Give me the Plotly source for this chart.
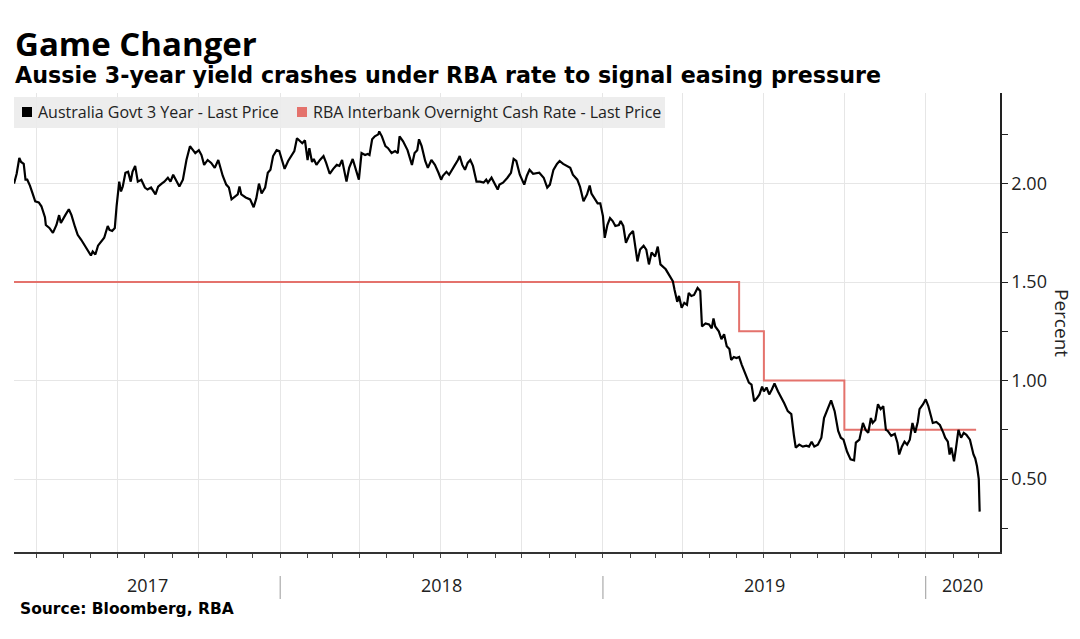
import plotly.graph_objects as go
import pandas as pd

# ---------------- data ----------------
yield_dates = [
    "2017-03-06","2017-03-09","2017-03-12","2017-03-14","2017-03-17","2017-03-19","2017-03-21","2017-03-24",
    "2017-03-27","2017-03-30","2017-04-03","2017-04-06","2017-04-10","2017-04-11","2017-04-15","2017-04-19",
    "2017-04-23","2017-04-26","2017-04-28","2017-05-01","2017-05-03","2017-05-07","2017-05-10","2017-05-14",
    "2017-05-17","2017-05-21","2017-05-25","2017-05-29","2017-06-01","2017-06-03","2017-06-06","2017-06-09",
    "2017-06-13","2017-06-16","2017-06-20","2017-06-22","2017-06-25","2017-06-28","2017-06-30","2017-07-03",
    "2017-07-05","2017-07-07","2017-07-10","2017-07-13","2017-07-16","2017-07-18","2017-07-21","2017-07-24",
    "2017-07-28","2017-08-01","2017-08-04","2017-08-08","2017-08-13","2017-08-16","2017-08-20","2017-08-23",
    "2017-08-27","2017-08-30","2017-09-02","2017-09-06","2017-09-09","2017-09-13","2017-09-17","2017-09-21",
    "2017-09-24","2017-09-27","2017-10-01","2017-10-04","2017-10-07","2017-10-11","2017-10-15","2017-10-19",
    "2017-10-23","2017-10-25","2017-10-28","2017-11-01","2017-11-04","2017-11-07","2017-11-11","2017-11-14",
    "2017-11-16","2017-11-18","2017-11-23","2017-11-28","2017-12-02","2017-12-05","2017-12-08","2017-12-11",
    "2017-12-15","2017-12-18","2017-12-21","2017-12-24","2017-12-28","2017-12-31","2018-01-03","2018-01-06",
    "2018-01-10","2018-01-14","2018-01-17","2018-01-20","2018-01-23","2018-01-26","2018-01-29","2018-02-01",
    "2018-02-03","2018-02-06","2018-02-08","2018-02-11","2018-02-15","2018-02-19","2018-02-22","2018-02-26",
    "2018-03-02","2018-03-06","2018-03-09","2018-03-12","2018-03-17","2018-03-20","2018-03-24","2018-03-28",
    "2018-03-31","2018-04-03","2018-04-07","2018-04-10","2018-04-12","2018-04-15","2018-04-18","2018-04-22",
    "2018-04-23","2018-04-26","2018-04-30","2018-05-03","2018-05-07","2018-05-11","2018-05-14","2018-05-16",
    "2018-05-20","2018-05-25","2018-05-30","2018-06-02","2018-06-05","2018-06-07","2018-06-10","2018-06-14",
    "2018-06-17","2018-06-21","2018-06-25","2018-06-29","2018-07-02","2018-07-04","2018-07-08","2018-07-11",
    "2018-07-14","2018-07-17","2018-07-21","2018-07-23","2018-07-26","2018-07-29","2018-08-01","2018-08-04",
    "2018-08-07","2018-08-11","2018-08-15","2018-08-19","2018-08-22","2018-08-24","2018-08-28","2018-09-01",
    "2018-09-04","2018-09-06","2018-09-10","2018-09-15","2018-09-19","2018-09-22","2018-09-25","2018-09-29",
    "2018-10-04","2018-10-07","2018-10-10","2018-10-14","2018-10-18","2018-10-21","2018-10-26","2018-10-30",
    "2018-11-02","2018-11-06","2018-11-10","2018-11-13","2018-11-17","2018-11-21","2018-11-25","2018-11-28",
    "2018-12-03","2018-12-06","2018-12-10","2018-12-14","2018-12-17","2018-12-19","2018-12-23","2018-12-26",
    "2018-12-29","2019-01-01","2019-01-03","2019-01-06","2019-01-09","2019-01-12","2019-01-15","2019-01-19",
    "2019-01-21","2019-01-24","2019-01-27","2019-01-31","2019-02-04","2019-02-07","2019-02-09","2019-02-12",
    "2019-02-16","2019-02-19","2019-02-22","2019-02-25","2019-03-01","2019-03-04","2019-03-07","2019-03-13",
    "2019-03-16","2019-03-21","2019-03-23","2019-03-26","2019-03-28","2019-03-31","2019-04-03","2019-04-06",
    "2019-04-08","2019-04-11","2019-04-14","2019-04-18","2019-04-21","2019-04-23","2019-04-27","2019-05-01",
    "2019-05-04","2019-05-06","2019-05-08","2019-05-12","2019-05-15","2019-05-18","2019-05-21","2019-05-24",
    "2019-05-26","2019-05-29","2019-06-01","2019-06-04","2019-06-07","2019-06-10","2019-06-13","2019-06-15",
    "2019-06-18","2019-06-21","2019-06-24","2019-06-27","2019-06-30","2019-07-02","2019-07-05","2019-07-08",
    "2019-07-11","2019-07-14","2019-07-18","2019-07-21","2019-07-25","2019-07-29","2019-08-02","2019-08-05",
    "2019-08-07","2019-08-11","2019-08-15","2019-08-19","2019-08-22","2019-08-25","2019-08-28","2019-09-01",
    "2019-09-05","2019-09-08","2019-09-12","2019-09-16","2019-09-20","2019-09-24","2019-09-27","2019-09-30",
    "2019-10-04","2019-10-08","2019-10-12","2019-10-14","2019-10-18","2019-10-22","2019-10-25","2019-10-28",
    "2019-10-31","2019-11-02","2019-11-05","2019-11-08","2019-11-11","2019-11-14","2019-11-17","2019-11-19",
    "2019-11-23","2019-11-27","2019-11-30","2019-12-02","2019-12-05","2019-12-08","2019-12-11","2019-12-14",
    "2019-12-17","2019-12-20","2019-12-23","2019-12-25","2019-12-29","2020-01-01","2020-01-04","2020-01-07",
    "2020-01-09","2020-01-13","2020-01-17","2020-01-21","2020-01-23","2020-01-26","2020-01-28","2020-01-30",
    "2020-02-02","2020-02-04","2020-02-07","2020-02-10","2020-02-13","2020-02-16","2020-02-20","2020-02-24",
    "2020-02-26","2020-02-28","2020-03-01","2020-03-02",
]
yield_values = [
    2.00, 2.05, 2.13, 2.11, 2.10, 2.02, 2.02, 1.99,
    1.95, 1.91, 1.905, 1.885, 1.83, 1.79, 1.775, 1.75,
    1.79, 1.84, 1.80, 1.82, 1.84, 1.87, 1.84, 1.78,
    1.74, 1.715, 1.685, 1.66, 1.635, 1.655, 1.64, 1.685,
    1.71, 1.725, 1.785, 1.765, 1.76, 1.775, 1.885, 2.01,
    1.96, 1.985, 2.055, 2.06, 2.01, 2.06, 2.09, 2.01,
    2.02, 1.98, 1.97, 1.98, 1.945, 1.985, 2.00, 2.01,
    2.03, 2.01, 2.045, 2.01, 1.985, 2.02, 2.12, 2.19,
    2.17, 2.155, 2.17, 2.145, 2.095, 2.12, 2.105, 2.08,
    2.12, 2.09, 2.04, 1.995, 1.98, 1.92, 1.935, 1.945,
    1.985, 1.945, 1.93, 1.92, 1.88, 1.925, 2.00, 1.95,
    1.98, 2.055, 2.07, 2.14, 2.17, 2.165, 2.12, 2.075,
    2.115, 2.14, 2.165, 2.23, 2.215, 2.205, 2.22, 2.12,
    2.18, 2.11, 2.125, 2.095, 2.12, 2.14, 2.105, 2.05,
    2.075, 2.095, 2.09, 2.12, 2.01, 2.08, 2.125, 2.07,
    2.02, 2.155, 2.145, 2.15, 2.145, 2.225, 2.24, 2.25,
    2.265, 2.24, 2.19, 2.18, 2.155, 2.165, 2.155, 2.24,
    2.215, 2.17, 2.095, 2.155, 2.17, 2.225, 2.19, 2.115,
    2.08, 2.12, 2.095, 2.055, 2.02, 2.04, 2.06, 2.045,
    2.07, 2.09, 2.12, 2.14, 2.095, 2.07, 2.105, 2.12,
    2.09, 2.01, 2.01, 2.005, 2.02, 2.005, 2.03, 1.995,
    1.97, 1.995, 2.005, 2.03, 2.055, 2.125, 2.115, 2.045,
    1.995, 2.04, 2.07, 2.05, 2.055, 2.055, 2.03, 1.98,
    1.995, 2.07, 2.10, 2.115, 2.10, 2.09, 2.08, 2.045,
    2.02, 1.985, 1.91, 1.945, 1.99, 1.95, 1.92, 1.90,
    1.90, 1.835, 1.725, 1.79, 1.825, 1.81, 1.785, 1.79,
    1.81, 1.785, 1.70, 1.74, 1.76, 1.665, 1.605, 1.665,
    1.685, 1.665, 1.59, 1.65, 1.63, 1.68, 1.59, 1.565,
    1.54, 1.505, 1.46, 1.40, 1.43, 1.37, 1.395, 1.385,
    1.445, 1.43, 1.435, 1.47, 1.455, 1.275, 1.29, 1.285,
    1.265, 1.315, 1.275, 1.25, 1.21, 1.235, 1.175, 1.16,
    1.105, 1.12, 1.115, 1.12, 1.08, 1.045, 1.015, 0.99,
    0.98, 0.895, 0.91, 0.93, 0.97, 0.945, 0.965, 0.93,
    0.955, 0.985, 0.945, 0.92, 0.885, 0.845, 0.83, 0.72,
    0.66, 0.675, 0.665, 0.67, 0.665, 0.69, 0.665, 0.675,
    0.71, 0.81, 0.855, 0.90, 0.845, 0.745, 0.71, 0.70,
    0.64, 0.60, 0.595, 0.685, 0.70, 0.785, 0.75, 0.735,
    0.81, 0.785, 0.80, 0.88, 0.855, 0.87, 0.75, 0.745,
    0.72, 0.73, 0.685, 0.625, 0.665, 0.69, 0.675, 0.70,
    0.785, 0.735, 0.79, 0.855, 0.88, 0.905, 0.87, 0.81,
    0.785, 0.79, 0.775, 0.735, 0.71, 0.69, 0.625, 0.66,
    0.59, 0.65, 0.75, 0.71, 0.735, 0.725, 0.70, 0.625,
    0.605, 0.565, 0.50, 0.335,
]

rba_dates = ["2017-03-06", "2019-06-04", "2019-07-02", "2019-10-01", "2020-02-27"]
rba_values = [1.50, 1.25, 1.00, 0.75, 0.75]

series_names = ["Australia Govt 3 Year - Last Price",
                "RBA Interbank Overnight Cash Rate - Last Price"]
series_colors = ["#000000", "#e4726c"]
year_labels = ["2017", "2018", "2019", "2020"]
y_tick_values = [0.5, 1.0, 1.5, 2.0]
x_range = ["2017-03-06", "2020-03-25"]
y_range = [0.13, 2.46]

FONT = "Open Sans"
WIDE = "DejaVu Sans"

fig = go.Figure()
fig.add_trace(go.Scatter(x=rba_dates, y=rba_values, mode="lines", line_shape="hv",
                         line=dict(color=series_colors[1], width=2), name=series_names[1],
                         showlegend=False))
fig.add_trace(go.Scatter(x=yield_dates, y=yield_values, mode="lines",
                         line=dict(color=series_colors[0], width=2.2), name=series_names[0],
                         showlegend=False))

W, H = 1080, 639
L, R, T, B = 14, 80, 93, 87
pw, ph = W - L - R, H - T - B

def px(xp):
    return (xp - L) / pw

def py(yp):
    return (H - B - yp) / ph

shapes = []
annotations = []

# legend box
shapes.append(dict(type="rect", xref="paper", yref="paper", x0=0, x1=px(665), y0=py(128), y1=py(97),
                   fillcolor="rgba(236,236,236,0.92)", line=dict(width=0), layer="above"))
leg_items = [(22, 36), (297, 311)]
for (sx, tx), name, col in zip(leg_items, series_names, series_colors):
    shapes.append(dict(type="rect", xref="paper", yref="paper", x0=px(sx), x1=px(sx + 10),
                       y0=py(117), y1=py(107), fillcolor=col, line=dict(width=0), layer="above"))
    annotations.append(dict(text=name, xref="paper", yref="paper", x=px(tx), y=py(112),
                            xanchor="left", yanchor="middle", showarrow=False,
                            font=dict(family=FONT, size=16, color="#222")))

# year labels centred on the visible part of each year, and separators
rs, re_ = pd.Timestamp(x_range[0]), pd.Timestamp(x_range[1])
for yl in year_labels:
    y0 = pd.Timestamp(f"{yl}-01-01")
    y1 = pd.Timestamp(f"{int(yl) + 1}-01-01")
    lo, hi = max(rs, y0), min(re_, y1)
    c = lo + (hi - lo) / 2
    annotations.append(dict(text=yl, xref="x", yref="paper", x=c, y=py(585),
                            xanchor="center", yanchor="middle", showarrow=False,
                            font=dict(family=FONT, size=18, color="#222")))
    if y0 > rs:
        shapes.append(dict(type="line", xref="x", yref="paper", x0=y0, x1=y0,
                           y0=py(576), y1=py(599), line=dict(color="#9a9a9a", width=1)))

# titles
annotations.append(dict(text="<b>Game Changer</b>", xref="paper", yref="paper", x=px(13), y=py(43),
                        xanchor="left", yanchor="middle", showarrow=False,
                        font=dict(family=FONT, size=33, color="#000")))
annotations.append(dict(text="<b>Aussie 3-year yield crashes under RBA rate to signal easing pressure</b>",
                        xref="paper", yref="paper", x=px(13), y=py(75),
                        xanchor="left", yanchor="middle", showarrow=False,
                        font=dict(family=WIDE, size=22.2, color="#000")))
annotations.append(dict(text="<b>Source: Bloomberg, RBA</b>", xref="paper", yref="paper", x=px(18), y=py(609),
                        xanchor="left", yanchor="middle", showarrow=False,
                        font=dict(family=WIDE, size=15.5, color="#000")))
annotations.append(dict(text="Percent", xref="paper", yref="paper", x=px(1062), y=py(323),
                        xanchor="center", yanchor="middle", showarrow=False, textangle=90,
                        font=dict(family=FONT, size=19, color="#222")))

fig.update_layout(
    width=W, height=H,
    margin=dict(l=L, r=R, t=T, b=B),
    paper_bgcolor="white", plot_bgcolor="white",
    showlegend=False,
    shapes=shapes, annotations=annotations,
    xaxis=dict(type="date", range=x_range, showticklabels=False,
               tick0="2017-01-01", dtick="M3", ticks="outside", ticklen=4, tickcolor="#444",
               showgrid=True, gridcolor="#e6e6e6", gridwidth=1,
               minor=dict(dtick="M1", tick0="2017-01-01", ticks="outside", ticklen=4,
                          tickcolor="#444", showgrid=False),
               showline=True, linecolor="#333", linewidth=1.5, zeroline=False),
    yaxis=dict(side="right", range=y_range, tickvals=y_tick_values, tickformat=".2f",
               ticks="outside", ticklen=6, tickcolor="#222",
               minor=dict(dtick=0.25, tick0=0, ticks="outside", ticklen=6, tickcolor="#222",
                          showgrid=False),
               showgrid=True, gridcolor="#e6e6e6", gridwidth=1,
               showline=True, linecolor="#222", linewidth=1.5, zeroline=False,
               tickfont=dict(family=FONT, size=18, color="#222")),
)

fig.write_html("out.html", config={"displayModeBar": False},
               post_script="document.body.style.margin='0px';document.body.style.overflow='hidden';")
